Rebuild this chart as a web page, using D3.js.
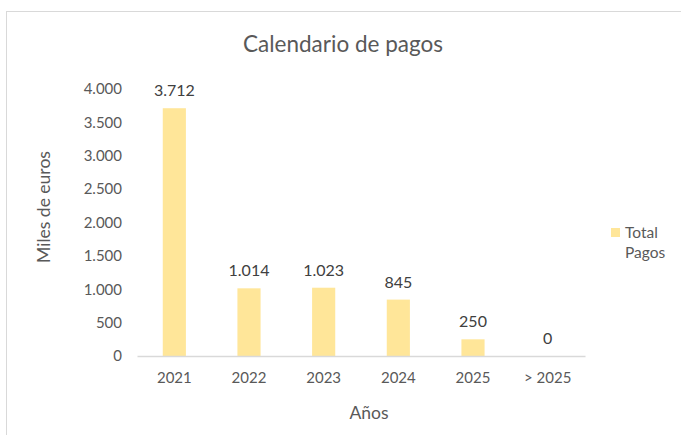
<!DOCTYPE html>
<html>
<head>
<meta charset="utf-8">
<script src="https://cdn.jsdelivr.net/npm/d3@7"></script>
<style>
  body { margin: 0; background: #fff; }
  svg { display: block; font-family: Lato, "Open Sans", sans-serif; }
</style>
</head>
<body>
<svg width="681" height="435"></svg>
<script>
const years = ["2021", "2022", "2023", "2024", "2025", "> 2025"]
const pagos = [3712, 1014, 1023, 845, 250, 0]
const yTicks = [0, 500, 1000, 1500, 2000, 2500, 3000, 3500, 4000]

const svg = d3.select("svg")
const textColor = "#595959"
const es = d3.formatLocale({decimal: ",", thousands: ".", grouping: [3], currency: ["", " €"]})
const fmt = es.format(",")

// outer chart border
svg.append("rect")
    .attr("x", 6.5).attr("y", 11.5)
    .attr("width", 700).attr("height", 440)
    .attr("fill", "none")
    .attr("stroke", "#d9d9d9")

const x = d3.scaleBand().domain(years).range([137, 585]).paddingInner(0.69).paddingOuter(0.345)
const y = d3.scaleLinear().domain([0, 4000]).range([356, 89])

svg.append("text")
    .attr("x", 343).attr("y", 52)
    .attr("text-anchor", "middle")
    .attr("font-size", 22.5)
    .attr("fill", textColor)
    .text("Calendario de pagos")

// y axis (labels only)
const yAxis = svg.append("g")
    .attr("transform", "translate(130,0)")
    .call(d3.axisLeft(y).tickValues(yTicks).tickFormat(fmt).tickSize(0).tickPadding(8))
yAxis.select(".domain").remove()
yAxis.selectAll("text").attr("font-size", 15).attr("fill", textColor).attr("font-family", "Lato, sans-serif")

svg.selectAll(".bar")
    .data(pagos)
    .enter()
    .append("rect")
    .attr("class", "bar")
    .attr("x", (d, i) => x(years[i]))
    .attr("y", d => y(d))
    .attr("width", x.bandwidth())
    .attr("height", d => y(0) - y(d))
    .attr("fill", "#ffe699")

const xAxis = svg.append("g")
    .attr("transform", `translate(0,${y(0)})`)
    .call(d3.axisBottom(x).tickSize(0).tickPadding(16))
xAxis.select(".domain").attr("stroke", "#d9d9d9").attr("stroke-width", 1.5)
xAxis.selectAll("text").attr("font-size", 15).attr("fill", textColor).attr("font-family", "Lato, sans-serif")

svg.selectAll(".lbl")
    .data(pagos)
    .enter()
    .append("text")
    .attr("class", "lbl")
    .attr("x", (d, i) => x(years[i]) + x.bandwidth() / 2)
    .attr("y", d => y(d) - 12)
    .attr("text-anchor", "middle")
    .attr("font-size", 16)
    .attr("fill", "#404040")
    .text(d => fmt(d))

svg.append("text")
    .attr("transform", "translate(50,207) rotate(-90)")
    .attr("text-anchor", "middle")
    .attr("font-size", 17.5)
    .attr("fill", textColor)
    .text("Miles de euros")

svg.append("text")
    .attr("x", 369).attr("y", 419)
    .attr("text-anchor", "middle")
    .attr("font-size", 17.5)
    .attr("fill", textColor)
    .text("Años")

// legend
svg.append("rect")
    .attr("x", 611).attr("y", 228)
    .attr("width", 9).attr("height", 9)
    .attr("fill", "#ffe699")
const leg = svg.append("text")
    .attr("font-size", 15.5)
    .attr("fill", textColor)
leg.append("tspan").attr("x", 625).attr("y", 238).text("Total")
leg.append("tspan").attr("x", 625).attr("y", 258).text("Pagos")
</script>
</body>
</html>
